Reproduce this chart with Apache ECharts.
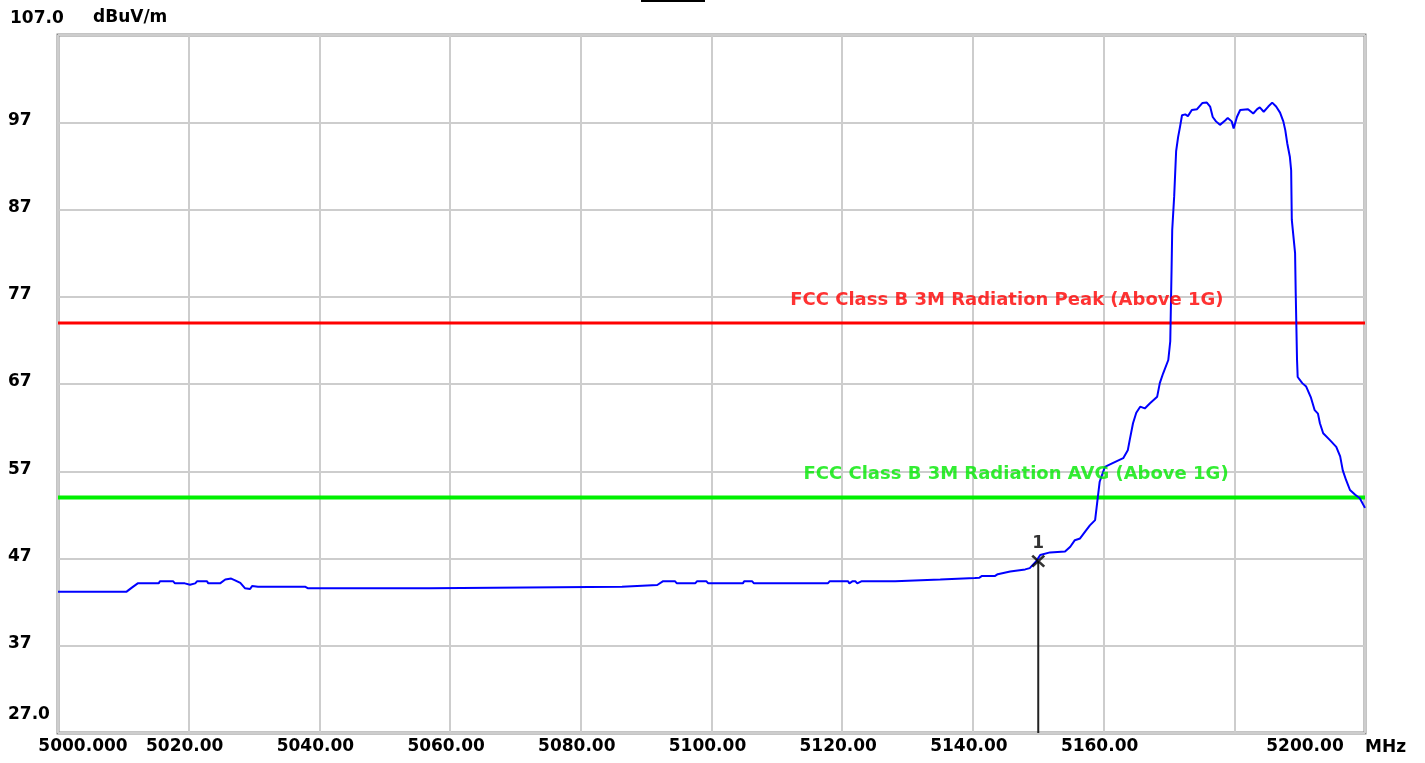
<!DOCTYPE html>
<html>
<head>
<meta charset="utf-8">
<script src="https://cdn.jsdelivr.net/npm/echarts@6/dist/echarts.min.js"></script>
<style>
html,body{margin:0;padding:0;background:#fff;}
#chart{width:1425px;height:763px;}
</style>
</head>
<body>
<div id="chart"></div>
<script>
// ---- data ----
const freqs = [
5000.0,5010.5,5011.2,5012.2,5015.4,5015.6,5017.6,5017.9,5019.4,5020.2,
5021.0,5021.3,5022.8,5023.0,5024.8,5025.6,5026.5,5027.1,5027.9,5028.6,
5029.4,5029.7,5030.6,5037.8,5038.2,5056.9,5057.2,5086.3,5086.6,5091.7,
5092.0,5092.6,5094.4,5094.7,5097.5,5097.8,5099.2,5099.5,5104.8,5105.0,
5106.2,5106.5,5117.8,5118.1,5120.9,5121.1,5121.6,5122.0,5122.3,5123.0,
5128.1,5128.4,5135.0,5135.3,5140.3,5140.6,5141.0,5141.4,5143.4,5143.8,
5145.7,5148.0,5148.7,5149.7,5150.3,5151.8,5154.1,5154.9,5155.6,5156.4,
5157.2,5157.9,5158.7,5159.4,5160.2,5161.3,5163.0,5163.7,5164.0,5164.5,
5165.0,5165.6,5166.3,5167.1,5168.2,5168.6,5169.1,5169.9,5170.2,5170.4,
5170.5,5170.8,5171.1,5171.4,5171.7,5172.0,5172.5,5172.9,5173.5,5174.3,
5175.1,5175.8,5176.3,5176.7,5177.2,5177.8,5178.6,5179.0,5179.6,5179.9,
5180.4,5180.9,5182.1,5182.9,5183.5,5183.9,5184.5,5185.2,5185.8,5186.4,
5187.0,5187.5,5187.8,5188.1,5188.5,5188.7,5188.8,5189.3,5189.4,5189.6,
5189.7,5190.4,5191.0,5191.7,5192.3,5192.8,5193.1,5193.6,5194.6,5195.6,
5196.2,5196.6,5197.1,5197.7,5198.5,5199.2,5200.0
];
const levels = [
43.2,43.2,43.6,44.15,44.15,44.4,44.4,44.15,44.15,44.0,
44.15,44.4,44.4,44.15,44.15,44.6,44.7,44.5,44.2,43.6,
43.5,43.85,43.77,43.77,43.6,43.6,43.77,43.77,43.96,43.96,
44.15,44.4,44.4,44.15,44.15,44.4,44.4,44.15,44.15,44.4,
44.4,44.15,44.15,44.4,44.4,44.15,44.4,44.4,44.15,44.4,
44.4,44.6,44.6,44.77,44.77,44.96,44.8,45.0,45.0,45.2,
45.5,45.75,45.9,46.7,47.4,47.7,47.8,48.35,49.1,49.3,
50.1,50.8,51.4,55.8,57.5,57.9,58.5,59.4,60.6,62.5,
63.7,64.4,64.2,64.8,65.55,67.1,68.2,69.75,71.9,80.1,
84.65,88.5,93.7,95.3,96.5,97.8,97.9,97.7,98.4,98.5,
99.2,99.25,98.8,97.6,97.1,96.7,97.2,97.5,97.1,96.3,
97.6,98.4,98.5,98.0,98.5,98.7,98.2,98.8,99.25,98.8,
98.1,97.1,96.1,94.6,93.05,91.5,85.8,82.0,77.4,69.75,
67.8,67.1,66.7,65.5,64.0,63.6,62.5,61.35,60.6,59.8,
58.7,57.1,56.0,54.85,54.3,53.9,52.8
];
const peakLimit = 74;
const avgLimit = 54;
const limitNames = ['FCC Class B 3M Radiation Peak (Above 1G)', 'FCC Class B 3M Radiation AVG (Above 1G)'];
const limitLabelFreqs = [5145.2, 5146.6];
const markerFreq = 5150;
const markerLevel = 46.7;
const markerName = '1';
const xTickValues = [5000,5020,5040,5060,5080,5100,5120,5140,5160,5180,5200];
const xTickLabels = ['5000.000','5020.00','5040.00','5060.00','5080.00','5100.00','5120.00','5140.00','5160.00','','5200.00'];
const yTickValues = [27,37,47,57,67,77,87,97,107];
const yTickLabels = ['27.0','37','47','57','67','77','87','97','107.0'];
const yUnit = 'dBuV/m';
const xUnit = 'MHz';

// ---- chart ----
const FONT = 'DejaVu Sans';
const chart = echarts.init(document.getElementById('chart'));
const trace = freqs.map((f, i) => [f, levels[i]]);
const xMin = xTickValues[0], xMax = xTickValues[xTickValues.length - 1];
const yMin = yTickValues[0], yMax = yTickValues[yTickValues.length - 1];
const txt = (extra) => Object.assign({ fontFamily: FONT, fontWeight: 'bold', fontSize: 17, color: '#000' }, extra);

const option = {
  animation: false,
  backgroundColor: '#ffffff',
  grid: {
    left: 58, right: 60, top: 35, bottom: 30,
    show: true, borderColor: '#8a8a8a', borderWidth: 3, backgroundColor: 'transparent'
  },
  graphic: [
    { type: 'rect', shape: { x: 641, y: 0, width: 64, height: 2 }, style: { fill: '#000' } }
  ],
  xAxis: {
    type: 'value', min: xMin, max: xMax, interval: 20,
    name: xUnit, nameLocation: 'end', nameGap: 0,
    nameTextStyle: txt({ align: 'left', verticalAlign: 'top', padding: [6, 0, 0, 0] }),
    axisLine: { show: false }, axisTick: { show: false },
    splitLine: { show: true, lineStyle: { color: '#cdcdcd', width: 2 } },
    axisLabel: {
      margin: 5,
      formatter: function (v) {
        const i = xTickValues.indexOf(Math.round(v));
        const t = i >= 0 ? xTickLabels[i] : '';
        if (!t) return '';
        if (i === 0) return '{first|' + t + '}';
        if (i === xTickValues.length - 1) return '{last|' + t + '}';
        return '{n|' + t + '}';
      },
      rich: {
        n: txt({ padding: [0, 8, 0, 0] }),
        first: txt({ padding: [0, 0, 0, 50] }),
        last: txt({ padding: [0, 120, 0, 0] })
      }
    }
  },
  yAxis: {
    type: 'value', min: yMin, max: yMax, interval: 10,
    name: yUnit, nameLocation: 'end', nameGap: 17,
    nameTextStyle: txt({ align: 'left', verticalAlign: 'middle', padding: [0, 0, 0, 35] }),
    axisLine: { show: false }, axisTick: { show: false },
    splitLine: { show: true, lineStyle: { color: '#cdcdcd', width: 2 } },
    axisLabel: {
      align: 'left', margin: 50,
      formatter: function (v) {
        const i = yTickValues.indexOf(Math.round(v));
        const t = i >= 0 ? yTickLabels[i] : '';
        if (i === 0) return '{bot|' + t + '}';
        if (i === yTickValues.length - 1) return '{top|' + t + '}';
        return '{n|' + t + '}';
      },
      rich: {
        n: txt({ padding: [0, 0, 4, 0] }),
        top: txt({ padding: [0, 0, 33, 2] }),
        bot: txt({ padding: [0, 0, 37, 0] })
      }
    }
  },
  series: [
    {
      type: 'line', name: limitNames[0], data: [[xMin, peakLimit], [xMax, peakLimit]],
      symbol: 'none', lineStyle: { color: '#ff0000', width: 3 }, silent: true, z: 3
    },
    {
      type: 'line', name: limitNames[1], data: [[xMin, avgLimit], [xMax, avgLimit]],
      symbol: 'none', lineStyle: { color: '#00f000', width: 4 }, silent: true, z: 3
    },
    {
      type: 'scatter', symbolSize: 0, silent: true, z: 6,
      data: [
        { value: [limitLabelFreqs[0], peakLimit], name: limitNames[0], label: { color: '#ff0000' } },
        { value: [limitLabelFreqs[1], avgLimit], name: limitNames[1], label: { color: '#00e800' } }
      ],
      label: { show: true, position: 'top', distance: 14, formatter: '{b}', fontFamily: FONT, fontWeight: 'bold', fontSize: 18 }
    },
    {
      type: 'line', name: 'trace', data: trace, symbol: 'none', smooth: false,
      lineStyle: { color: '#0000ff', width: 2 }, z: 4
    },
    {
      type: 'line', name: 'markerLine', data: [[markerFreq, markerLevel], [markerFreq, yMin]],
      symbol: 'none', lineStyle: { color: '#222222', width: 2 }, z: 5, silent: true
    },
    {
      type: 'scatter', name: 'marker', z: 7, silent: true,
      data: [{ value: [markerFreq, markerLevel], name: markerName }],
      symbol: 'path://M0,0L10,10M10,0L0,10', symbolSize: [12, 11],
      itemStyle: { color: 'none', borderColor: '#000', borderWidth: 2.5 },
      label: { show: true, position: 'top', distance: 1, formatter: '{b}', fontFamily: FONT, fontWeight: 'bold', fontSize: 17, color: '#000' }
    }
  ]
};
chart.setOption(option);
</script>
</body>
</html>
